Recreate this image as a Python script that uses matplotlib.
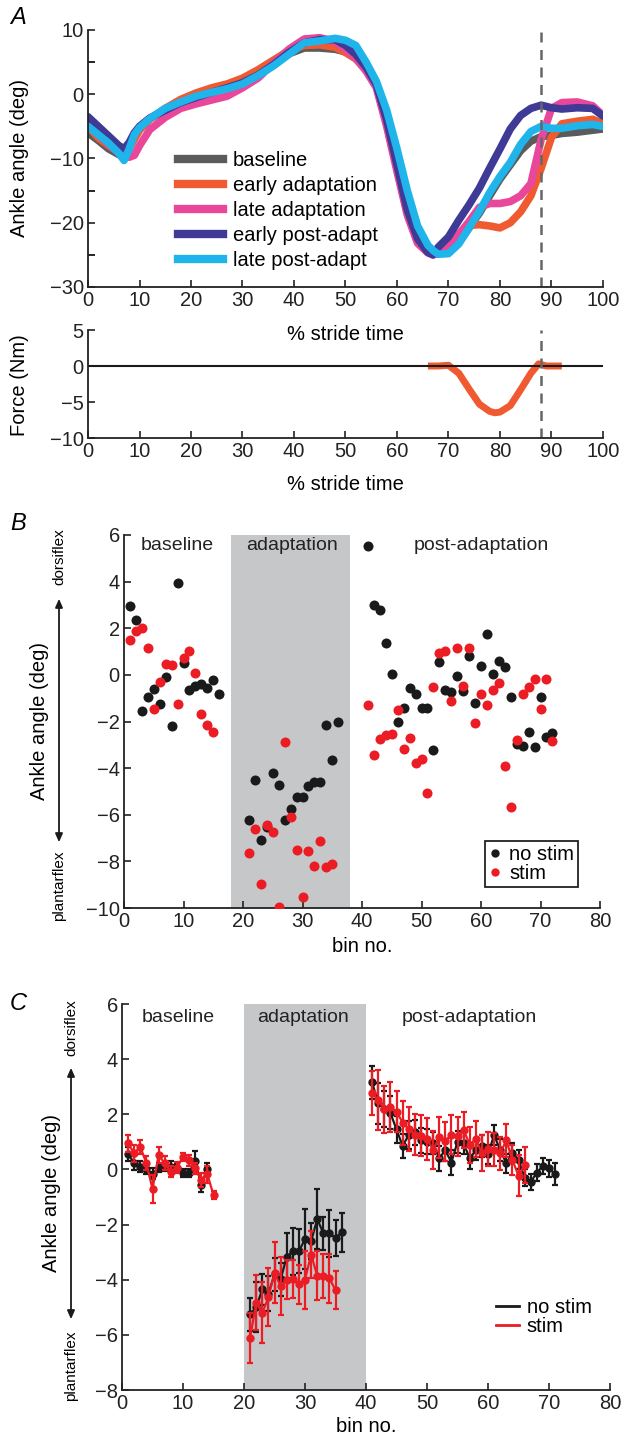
import numpy as np
import matplotlib
matplotlib.use('Agg')
import matplotlib.pyplot as plt
from matplotlib.lines import Line2D

plt.rcParams['font.family'] = ['Liberation Sans', 'DejaVu Sans']

# ---------------- panel A data ----------------
stride = [0, 2, 4, 6, 7, 8, 9, 10, 12, 15, 18, 21, 24, 27, 30, 33, 36, 39, 42, 45, 48, 50,
          52, 54, 56, 58, 60, 62, 64, 66, 67, 68, 70, 72, 74, 76, 78, 80, 82, 84, 86, 88,
          90, 92, 95, 98, 100]
baseline = [-6.0, -7.2, -8.5, -9.4, -9.3, -8.0, -6.5, -5.3, -3.8, -2.3, -1.0, 0.0, 0.6, 1.2,
            2.0, 3.2, 4.6, 6.3, 7.2, 7.2, 7.0, 6.6, 5.6, 3.8, 1.3, -4.5, -11.5, -18.3, -22.8,
            -24.5, -24.9, -24.8, -24.3, -23.0, -20.8, -18.5, -15.8, -13.2, -11.0, -8.8, -7.3,
            -6.6, -6.4, -6.1, -5.9, -5.6, -5.4]
early_adapt = [-5.0, -6.8, -8.0, -9.0, -9.3, -8.5, -7.0, -5.6, -3.9, -2.2, -0.8, 0.2, 1.0,
               1.6, 2.5, 3.8, 5.3, 6.8, 7.6, 7.7, 7.3, 6.5, 5.5, 3.8, 1.3, -4.5, -11.5, -18.5,
               -23.0, -24.6, -24.9, -24.7, -23.6, -21.8, -20.4, -20.3, -20.5, -20.8, -20.0,
               -18.3, -15.8, -11.5, -6.7, -4.6, -4.2, -3.9, -4.6]
late_adapt = [-4.5, -6.3, -7.8, -9.0, -9.5, -9.8, -9.5, -8.0, -5.5, -3.6, -2.2, -1.5, -0.9,
              -0.3, 1.0, 2.5, 4.8, 7.0, 8.6, 8.8, 8.2, 7.0, 5.6, 3.6, 1.0, -5.0, -12.0, -18.8,
              -23.2, -24.7, -25.0, -24.8, -23.5, -21.8, -19.8, -17.6, -17.0, -17.0, -16.7,
              -15.8, -13.9, -7.0, -2.2, -1.3, -1.2, -1.8, -3.3]
early_post = [-3.5, -5.0, -6.5, -8.0, -8.5, -7.5, -6.0, -5.0, -3.7, -2.5, -1.3, -0.5, 0.3,
              1.0, 1.8, 3.0, 4.6, 6.5, 8.0, 8.5, 8.5, 7.6, 6.2, 4.2, 1.5, -4.0, -11.0, -18.0,
              -22.5, -24.6, -25.0, -23.8, -22.2, -19.6, -17.2, -14.6, -11.5, -8.5, -5.4, -3.3,
              -2.2, -1.7, -2.1, -2.3, -2.1, -2.2, -3.4]
late_post = [-5.0, -6.3, -7.6, -9.2, -10.3, -8.5, -6.3, -5.2, -3.8, -2.2, -1.2, -0.3, 0.3,
             0.85, 1.6, 2.9, 4.4, 6.2, 8.0, 8.3, 8.7, 8.4, 7.6, 5.0, 2.0, -2.5, -8.5, -15.0,
             -20.5, -23.5, -24.3, -24.9, -24.8, -23.3, -20.8, -18.2, -15.3, -12.8, -10.6, -7.8,
             -5.8, -5.0, -5.3, -5.3, -4.9, -4.7, -5.0]

force_x = [66, 68, 70, 72, 74, 76, 78, 79, 80, 82, 84, 86, 87.5, 89, 92]
force_y = [0, 0, 0.1, -1.0, -3.2, -5.3, -6.3, -6.5, -6.4, -5.5, -3.3, -1.0, 0.3, 0, 0]

# ---------------- panel B data ----------------
b_bins_base_ns = list(range(1, 17))
b_base_ns = [2.97, 2.37, -1.53, -0.97, -0.59, -1.26, -0.11, -2.18, 3.94, 0.53, -0.64, -0.46,
             -0.39, -0.57, -0.21, -0.81]
b_bins_base_s = list(range(1, 16))
b_base_s = [1.5, 1.89, 2.03, 1.17, -1.47, -0.29, 0.47, 0.41, -1.26, 0.74, 1.04, 0.07, -1.69,
            -2.16, -2.43]
b_bins_adapt_ns = list(range(21, 37))
b_adapt_ns = [-6.21, -4.51, -7.08, -6.54, -4.21, -4.74, -6.21, -5.76, -5.26, -5.26, -4.75,
              -4.58, -4.58, -2.13, -3.65, -2.01]
b_bins_adapt_s = list(range(21, 36))
b_adapt_s = [-7.63, -6.62, -8.96, -6.43, -6.74, -9.94, -2.88, -6.1, -7.52, -9.53, -7.55,
             -8.2, -7.11, -8.26, -8.1]
b_bins_post = list(range(41, 73))
b_post_ns = [5.53, 3.01, 2.79, 1.36, 0.03, -2.0, -1.43, -0.56, -0.84, -1.44, -1.44, -3.22,
             0.57, -0.66, -0.73, -0.04, -0.71, 0.81, -1.21, 0.4, 1.76, 0.03, 0.61, 0.34, -0.94,
             -2.96, -3.05, -2.45, -3.08, -0.97, -2.65, -2.5]
b_post_s = [-1.29, -3.43, -2.77, -2.57, -2.54, -1.5, -3.19, -2.7, -3.8, -3.62, -5.08, -0.54,
            0.93, 1.03, -1.11, 1.14, -0.47, 1.17, -2.07, -0.81, -1.3, -0.67, -0.36, -3.9, -5.67,
            -2.81, -0.84, -0.54, -0.16, -1.46, -0.17, -2.82]

# ---------------- panel C data ----------------
c_bins_base_ns = list(range(1, 15))
c_base_ns = [0.56, 0.22, 0.1, 0.0, -0.15, 0.05, 0.1, 0.1, 0.05, -0.12, -0.12, 0.31, -0.57, 0.02]
c_base_ns_err = [0.25, 0.25, 0.2, 0.15, 0.2, 0.15, 0.15, 0.2, 0.15, 0.15, 0.15, 0.35, 0.25, 0.2]
c_bins_base_s = list(range(1, 16))
c_base_s = [0.95, 0.58, 0.82, 0.22, -0.71, 0.52, 0.22, -0.08, 0.06, 0.46, 0.34, 0.04, -0.39,
            -0.18, -0.93]
c_base_s_err = [0.3, 0.3, 0.25, 0.25, 0.5, 0.3, 0.25, 0.2, 0.2, 0.15, 0.2, 0.2, 0.25, 0.3, 0.15]
c_bins_adapt_ns = list(range(21, 37))
c_adapt_ns = [-5.26, -5.0, -4.35, -4.5, -3.81, -3.99, -3.17, -2.97, -2.97, -2.52, -2.61, -1.8,
              -2.31, -2.31, -2.49, -2.28]
c_adapt_ns_err = [0.6, 0.9, 0.55, 0.65, 0.6, 0.6, 0.85, 0.85, 0.8, 1.1, 0.65, 1.1, 0.6, 0.85,
                  0.65, 0.7]
c_bins_adapt_s = list(range(21, 36))
c_adapt_s = [-6.11, -4.84, -5.2, -4.64, -3.75, -4.23, -4.0, -3.98, -4.17, -4.0, -3.09, -3.85,
             -3.85, -3.95, -4.38]
c_adapt_s_err = [0.9, 1.0, 1.1, 1.05, 1.1, 1.05, 0.7, 0.7, 0.7, 1.05, 0.85, 0.9, 0.8, 0.9, 0.7]
c_bins_post_ns = list(range(41, 72))
c_post_ns = [3.16, 2.4, 2.2, 2.05, 1.45, 0.85, 1.25, 1.35, 1.05, 1.0, 0.95, 0.4, 0.7, 0.25,
             1.0, 0.95, 0.4, 0.7, 0.85, 0.55, 1.25, 0.7, 0.22, 0.6, 0.35, -0.3, -0.45, -0.12,
             0.13, 0.04, -0.18]
c_post_ns_err = [0.6, 0.75, 0.65, 0.6, 0.5, 0.45, 0.5, 0.45, 0.45, 0.45, 0.4, 0.45, 0.4, 0.45,
                 0.4, 0.4, 0.4, 0.35, 0.4, 0.35, 0.35, 0.4, 0.35, 0.35, 0.35, 0.3, 0.3, 0.3,
                 0.3, 0.3, 0.4]
c_bins_post_s = list(range(41, 67))
c_post_s = [2.76, 2.52, 2.18, 2.26, 2.1, 1.7, 1.46, 1.26, 1.22, 1.11, 0.71, 1.16, 1.02, 1.26,
            1.2, 1.44, 0.9, 1.1, 0.59, 0.74, 0.71, 0.59, 1.05, 0.35, -0.23, 0.15]
c_post_s_err = [0.8, 1.1, 0.85, 0.9, 0.75, 0.8, 0.8, 0.75, 0.75, 0.75, 0.7, 0.75, 0.7, 0.7,
                0.7, 0.65, 0.65, 0.65, 0.65, 0.6, 0.6, 0.6, 0.6, 0.55, 0.75, 0.65]

# colours
C_BASE = '#5b5b5b'
C_EA = '#f05a30'
C_LA = '#e8479a'
C_EP = '#3f3a96'
C_LP = '#1fb5ea'
BLK = '#1a1a1a'
RED = '#ec1c24'
SHADE = '#c6c7c9'

W, H = 624, 1445
fig = plt.figure(figsize=(W / 100, H / 100), dpi=100)


def px_axes(l, t, r, b):
    return fig.add_axes([l / W, 1 - b / H, (r - l) / W, (b - t) / H])


def ftext(x, y, s, **kw):
    fig.text(x / W, 1 - y / H, s, **kw)


FS = 14.5


def style(ax):
    for s in ['top', 'right']:
        ax.spines[s].set_visible(False)
    for s in ['left', 'bottom']:
        ax.spines[s].set_linewidth(1.3)
        ax.spines[s].set_color('#222222')
    ax.tick_params(direction='in', length=5, width=1.2, labelsize=FS, pad=3, colors='#222222')


# ---------------- panel A ----------------
axA = px_axes(88, 30, 603, 287)
series = [(baseline, C_BASE, 'baseline'), (early_adapt, C_EA, 'early adaptation'),
          (late_adapt, C_LA, 'late adaptation'), (early_post, C_EP, 'early post-adapt'),
          (late_post, C_LP, 'late post-adapt')]
for ys, col, lab in series:
    axA.plot(stride, ys, color=col, lw=5.5, solid_capstyle='round', solid_joinstyle='round')
axA.axvline(88, color='#666666', ls=(0, (4, 3)), lw=1.8)
axA.set_xlim(0, 100)
axA.set_ylim(-30, 10)
axA.set_xticks(range(0, 101, 10))
axA.set_yticks([-30, -20, -10, 0, 10])
axA.set_yticks([-25, -15, -5, 5], minor=True)
style(axA)
axA.tick_params(which='minor', direction='in', length=5, width=1.2)
handles = [Line2D([0], [0], color=c, lw=6) for _, c, _ in series]
axA.legend(handles, [l for _, _, l in series], loc='upper left', bbox_to_anchor=(0.16, 0.56),
           frameon=False, fontsize=FS, handlelength=2.2, handletextpad=0.5, labelspacing=0.3,
           borderaxespad=0)

axF = px_axes(88, 330, 603, 438)
axF.plot(force_x, force_y, color=C_EA, lw=5, solid_capstyle='butt', solid_joinstyle='round')
axF.axhline(0, color=BLK, lw=1.5)
axF.axvline(88, color='#666666', ls=(0, (4, 3)), lw=1.8)
axF.set_xlim(0, 100)
axF.set_ylim(-10, 5)
axF.set_xticks(range(0, 101, 10))
axF.set_yticks([-10, -5, 0, 5])
style(axF)

ftext(20, 158, 'Ankle angle (deg)', rotation=90, ha='center', va='center', fontsize=FS)
ftext(20, 385, 'Force (Nm)', rotation=90, ha='center', va='center', fontsize=FS)
ftext(345, 334, '% stride time', ha='center', va='center', fontsize=FS)
ftext(345, 484, '% stride time', ha='center', va='center', fontsize=FS)
ftext(18, 18, 'A', ha='center', va='center', fontsize=17, style='italic')

# ---------------- panel B ----------------
axB = px_axes(124, 535, 600, 908)
axB.axvspan(18, 38, color=SHADE, lw=0, zorder=0)
ms_b = 52
axB.scatter(b_bins_base_ns, b_base_ns, s=ms_b, color=BLK, lw=0, zorder=3)
axB.scatter(b_bins_base_s, b_base_s, s=ms_b, color=RED, lw=0, zorder=3)
axB.scatter(b_bins_adapt_ns, b_adapt_ns, s=ms_b, color=BLK, lw=0, zorder=3)
axB.scatter(b_bins_adapt_s, b_adapt_s, s=ms_b, color=RED, lw=0, zorder=3)
axB.scatter(b_bins_post, b_post_ns, s=ms_b, color=BLK, lw=0, zorder=3)
axB.scatter(b_bins_post, b_post_s, s=ms_b, color=RED, lw=0, zorder=3)
axB.set_xlim(0, 80)
axB.set_ylim(-10, 6)
axB.set_xticks(range(0, 81, 10))
axB.set_yticks(range(-10, 7, 2))
style(axB)
for x, s in [(9, 'baseline'), (28.2, 'adaptation'), (60, 'post-adaptation')]:
    axB.text(x, 5.55, s, ha='center', va='center', fontsize=FS - 0.5, color='#222222')
legB = axB.legend([Line2D([0], [0], marker='o', ls='', color=BLK, ms=5),
                   Line2D([0], [0], marker='o', ls='', color=RED, ms=5)],
                  ['no stim', 'stim'], loc='lower right', bbox_to_anchor=(0.975, 0.03),
                  fontsize=FS, handlelength=0.6, handletextpad=0.4, labelspacing=0.0,
                  borderpad=0.2, fancybox=False, edgecolor='#222222', framealpha=1)
legB.get_frame().set_linewidth(1.3)

ftext(40, 721, 'Ankle angle (deg)', rotation=90, ha='center', va='center', fontsize=FS)
ftext(59, 557, 'dorsiflex', rotation=90, ha='center', va='center', fontsize=11)
ftext(59, 886, 'plantarflex', rotation=90, ha='center', va='center', fontsize=11)
fig.add_artist(matplotlib.patches.FancyArrowPatch(
    (59 / W, 1 - 845 / H), (59 / W, 1 - 596 / H), transform=fig.transFigure,
    arrowstyle='<|-|>,head_length=5,head_width=2.2', lw=1.3, color=BLK))
ftext(362, 946, 'bin no.', ha='center', va='center', fontsize=FS)
ftext(18, 523, 'B', ha='center', va='center', fontsize=17, style='italic')

# ---------------- panel C ----------------
axC = px_axes(122, 1004, 610, 1390)
axC.axvspan(20, 40, color=SHADE, lw=0, zorder=0)
ebkw = dict(marker='o', ms=5, lw=1.6, elinewidth=1.6, capsize=2, capthick=1.6)
for bx, by, be in [(c_bins_base_ns, c_base_ns, c_base_ns_err),
                   (c_bins_adapt_ns, c_adapt_ns, c_adapt_ns_err),
                   (c_bins_post_ns, c_post_ns, c_post_ns_err)]:
    axC.errorbar(bx, by, yerr=be, color=BLK, zorder=3, **ebkw)
for bx, by, be in [(c_bins_base_s, c_base_s, c_base_s_err),
                   (c_bins_adapt_s, c_adapt_s, c_adapt_s_err),
                   (c_bins_post_s, c_post_s, c_post_s_err)]:
    axC.errorbar(bx, by, yerr=be, color=RED, zorder=4, **ebkw)
axC.set_xlim(0, 80)
axC.set_ylim(-8, 6)
axC.set_xticks(range(0, 81, 10))
axC.set_yticks(range(-8, 7, 2))
style(axC)
for x, s in [(9.2, 'baseline'), (29.6, 'adaptation'), (57, 'post-adaptation')]:
    axC.text(x, 5.5, s, ha='center', va='center', fontsize=FS - 0.5, color='#222222')
axC.legend([Line2D([0], [0], color=BLK, lw=2), Line2D([0], [0], color=RED, lw=2)],
           ['no stim', 'stim'], loc='center left', bbox_to_anchor=(0.73, 0.19),
           frameon=False, fontsize=FS, handlelength=1.1, handletextpad=0.4, labelspacing=0.0)

ftext(52, 1193, 'Ankle angle (deg)', rotation=90, ha='center', va='center', fontsize=FS)
ftext(71, 1028, 'dorsiflex', rotation=90, ha='center', va='center', fontsize=11)
ftext(71, 1366, 'plantarflex', rotation=90, ha='center', va='center', fontsize=11)
fig.add_artist(matplotlib.patches.FancyArrowPatch(
    (71 / W, 1 - 1322 / H), (71 / W, 1 - 1065 / H), transform=fig.transFigure,
    arrowstyle='<|-|>,head_length=5,head_width=2.2', lw=1.3, color=BLK))
ftext(366, 1426, 'bin no.', ha='center', va='center', fontsize=FS)
ftext(18, 1003, 'C', ha='center', va='center', fontsize=17, style='italic')

fig.savefig('out.png', dpi=100)
